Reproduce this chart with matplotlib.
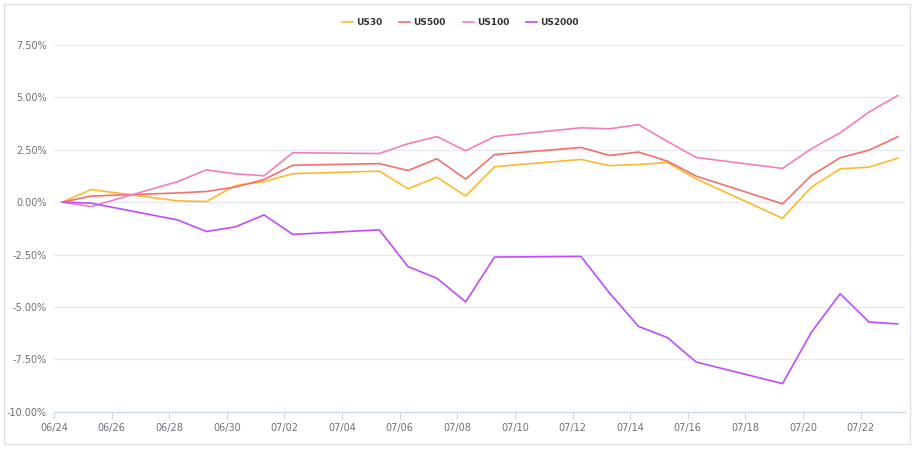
import matplotlib
matplotlib.use("Agg")
import matplotlib.pyplot as plt
import matplotlib.dates as mdates
from matplotlib.patches import Rectangle
from matplotlib.ticker import FuncFormatter, MultipleLocator
import pandas as pd

# trading days (data stamped 06:00)
days = ["06-24", "06-25", "06-28", "06-29", "06-30", "07-01", "07-02",
        "07-05", "07-06", "07-07", "07-08", "07-09", "07-12", "07-13",
        "07-14", "07-15", "07-16", "07-19", "07-20", "07-21", "07-22", "07-23"]

us30 = [0, 0.60, 0.06, 0.03, 0.79, 0.98, 1.36, 1.48, 0.64, 1.19, 0.29,
        1.69, 2.04, 1.74, 1.80, 1.89, 1.11, -0.77, 0.72, 1.59, 1.67, 2.10]
us500 = [0, 0.29, 0.44, 0.51, 0.72, 1.08, 1.76, 1.84, 1.51, 2.07, 1.10,
         2.27, 2.61, 2.23, 2.39, 1.96, 1.24, -0.08, 1.27, 2.12, 2.48, 3.12]
us100 = [0, -0.21, 0.98, 1.54, 1.35, 1.26, 2.36, 2.32, 2.79, 3.13, 2.45,
         3.13, 3.55, 3.50, 3.70, 2.90, 2.13, 1.61, 2.55, 3.31, 4.30, 5.09]
us2000 = [0, -0.05, -0.85, -1.40, -1.18, -0.61, -1.54, -1.32, -3.08, -3.63, -4.76,
          -2.62, -2.59, -4.35, -5.93, -6.46, -7.63, -8.66, -6.21, -4.37, -5.72, -5.81]

names = ["US30", "US500", "US100", "US2000"]
colors = ["#FDB92E", "#F2706B", "#F27EBB", "#C04CFD"]

x = pd.to_datetime(["2021-" + d + " 07:00" for d in days])

fig = plt.figure(figsize=(9.17, 4.51), dpi=100)
fig.patches.append(Rectangle((4 / 917, 7 / 451), 906 / 917, 440 / 451,
                             transform=fig.transFigure, fill=False,
                             edgecolor="#DCE1E8", linewidth=1))
ax = fig.add_axes([54 / 917, 39.3 / 451, 851 / 917, 366.7 / 451])

for name, vals, c in zip(names, [us30, us500, us100, us2000], colors):
    ax.plot(x, vals, color=c, linewidth=1.2, label=name)

ax.set_ylim(-10, 7.5)
ax.yaxis.set_major_locator(MultipleLocator(2.5))
ax.yaxis.set_major_formatter(FuncFormatter(lambda v, p: "%.2f%%" % v))
ax.set_xlim(pd.Timestamp("2021-06-24"), pd.Timestamp("2021-07-23 13:00"))
ax.set_xticks(pd.date_range("2021-06-24", "2021-07-22", freq="2D"))
ax.xaxis.set_major_formatter(mdates.DateFormatter("%m/%d"))

ax.grid(axis="y", color="#E6E9EF", linewidth=1)
ax.set_axisbelow(True)
for s in ["top", "right", "left"]:
    ax.spines[s].set_visible(False)
ax.spines["bottom"].set_color("#CCD6EB")
ax.tick_params(axis="x", colors="#CCD6EB", length=5, labelcolor="#6E7079",
               labelsize=7, pad=3)
ax.tick_params(axis="y", length=0, labelcolor="#6E7079", labelsize=7, pad=5)

fig.legend(loc="center", bbox_to_anchor=(0.502, 0.950), ncol=4, frameon=False,
           handlelength=1.2, handletextpad=0.35, columnspacing=1.9,
           prop={"weight": "bold", "size": 6.5}, labelcolor="#333333")

fig.savefig("out.png", dpi=100)
